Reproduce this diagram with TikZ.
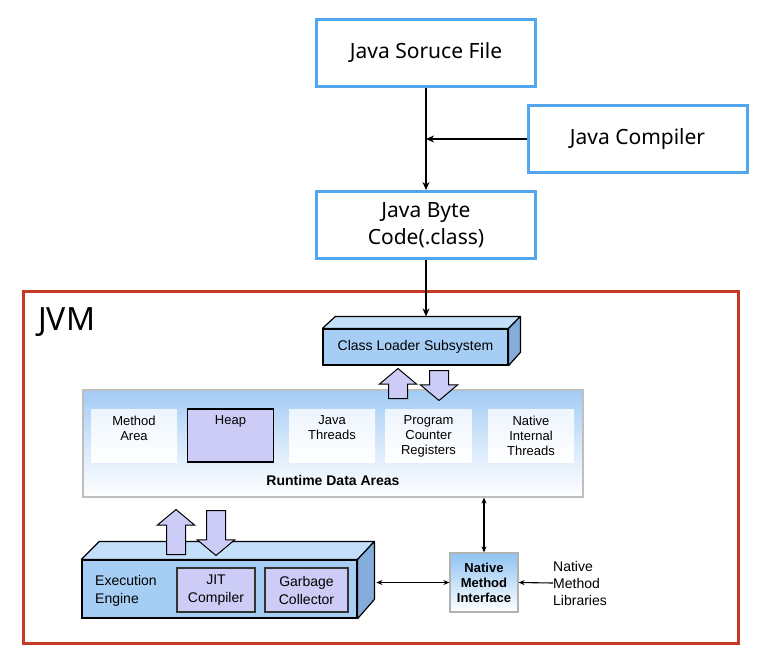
\documentclass[tikz,border=0pt]{standalone}
\usepackage{fontspec}
\setmainfont{Noto Sans}
\newfontfamily\arialfont{Liberation Sans}
\usepackage{tikz}
\usetikzlibrary{arrows.meta, positioning, shapes.arrows}
\definecolor{cblue}{HTML}{52A6EE}
\definecolor{cred}{HTML}{C43A25}
\definecolor{cfront}{HTML}{A6CEF4}
\definecolor{ctop}{HTML}{C3DFF9}
\definecolor{cside}{HTML}{84ADDC}
\definecolor{clav}{HTML}{CCCCF7}
\definecolor{crda}{HTML}{A2CBF4}
\definecolor{cnmi}{HTML}{8FC3F2}

\begin{document}
\begin{tikzpicture}[x=1pt, y=-1pt,
  srcbox/.style={draw=cblue, line width=3pt, minimum width=219pt, minimum height=67pt,
    align=center, font=\fontsize{21}{27}\selectfont},
  conn/.style={line width=1.4pt, -{Stealth[length=8pt, width=7pt]}},
  sconn/.style={line width=1.1pt, -{Stealth[length=6pt, width=5pt]}},
  dconn/.style={line width=1.1pt, {Stealth[length=6pt, width=5pt]}-{Stealth[length=6pt, width=5pt]}},
  front/.style={draw=black, line width=1.2pt, fill=cfront, inner sep=0pt},
  topface/.style={draw=black, line width=1.2pt, fill=ctop, line join=round},
  sideface/.style={draw=black, line width=1.2pt, fill=cside, line join=round},
  fatarrow/.style={single arrow, draw=black, line width=1pt, fill=clav, inner sep=9pt,
    single arrow head extend=9pt, single arrow tip angle=100, anchor=tail},
  cell/.style={minimum width=86pt, minimum height=53pt, inner sep=0pt,
    top color=white!80!crda, bottom color=white},
  heapcell/.style={cell, draw=black, line width=1.3pt, fill=clav, top color=clav, bottom color=clav},
  celltext/.style={font=\arialfont\fontsize{13}{15}\selectfont, align=center, inner sep=0pt},
  partbox/.style={draw=black!80, line width=1.2pt, fill=clav, minimum height=44pt, inner sep=0pt,
    font=\arialfont\fontsize{14}{18}\selectfont, align=center}
]
\useasboundingbox (0,0) rectangle (778,664);

% compile path
\node[srcbox] (src) at (426,53) {Java Soruce File};
\node[srcbox] (comp) at (637.5,139) {Java Compiler};
\node[srcbox] (byte) at (426,225) {Java Byte\\Code(.class)};
\draw[conn] (src) -- (byte);
\draw[conn] (comp.west) -- (comp.west -| src.south);

% JVM frame
\node[draw=cred, line width=3pt, minimum width=715pt, minimum height=352pt] (jvm) at (381,467.5) {};
\node[font=\fontsize{32}{36}\selectfont, anchor=base west, inner sep=0pt] (jvmlbl) at (38,330) {JVM};

% runtime data areas
\node[draw=black!25, line width=1.2pt, minimum width=500pt, minimum height=107pt,
  top color=crda, bottom color=white, middle color=white!55!crda] (rda) at (333,443.5) {};
\foreach \i/\cx/\txt in {1/134/{Method\\Area}, 2/230.5/Heap, 3/332/{Java\\Threads},
    4/428.5/{Program\\Counter\\Registers}, 5/531/{Native\\Internal\\Threads}}{
  \ifnum\i=2
    \node[heapcell] (c\i) at (\cx,435.5) {};
  \else
    \node[cell] (c\i) at (\cx,435.5) {};
  \fi
  \node[celltext, below=7pt of c\i.north] (t\i) {\txt};
}
\node[font=\arialfont\bfseries\fontsize{14}{16}\selectfont, inner sep=0pt, above=12pt of rda.south] (rdalbl) {Runtime Data Areas};

% class loader
\node[front, minimum width=185pt, minimum height=36pt, font=\arialfont\fontsize{14}{16}\selectfont] (loader) at (415.5,347) {Class Loader Subsystem};
\filldraw[topface] (loader.north west) -- ++(13,-12) coordinate (ldnw) -- ++(185,0) coordinate (ldne)
  -- (loader.north east) -- cycle;
\filldraw[sideface] (loader.north east) -- (ldne) -- ++(0,36) -- (loader.south east) -- cycle;
\draw[conn] (byte) -- (byte.south |- ldnw);
\node[fatarrow, minimum height=30pt, shape border rotate=90] (ldup) at (398,399) {};
\node[fatarrow, minimum height=30pt, shape border rotate=270] (lddown) at (439,370) {};

% execution engine
\node[front, minimum width=275pt, minimum height=58pt] (engine) at (219.5,589) {};
\filldraw[topface] (engine.north west) -- ++(18,-18) coordinate (eenw) -- ++(275,0) coordinate (eene)
  -- (engine.north east) -- cycle;
\filldraw[sideface] (engine.north east) -- (eene) -- ++(0,58) coordinate (eese) -- (engine.south east) -- cycle;
\node[celltext, font=\arialfont\fontsize{14}{18}\selectfont, align=left, anchor=west] (eelbl) at (95,591) {Execution\\Engine};
\node[partbox, minimum width=78pt] (jit) at (216,590) {JIT\\Compiler};
\node[partbox, minimum width=83pt] (gc) at (306.5,590) {Garbage\\Collector};
\node[fatarrow, minimum height=45pt, shape border rotate=90] (eeup) at (176,555) {};
\node[fatarrow, minimum height=45pt, shape border rotate=270] (eedown) at (216,510) {};

% native interface
\node[draw=black!30, line width=1.2pt, minimum width=68pt, minimum height=59pt, inner sep=0pt,
  top color=cnmi, bottom color=white, align=center,
  font=\arialfont\bfseries\fontsize{13}{15}\selectfont] (nmi) at (484,582.5) {Native\\Method\\Interface};
\node[celltext, font=\arialfont\fontsize{14}{17}\selectfont, align=left, anchor=west] (lib) at (553,583) {Native\\Method\\Libraries};
\draw[dconn] (rda.south -| nmi.north) -- (nmi.north);
\draw[dconn] ([xshift=2pt]nmi.west -| eene) -- (nmi.west);
\draw[sconn] (lib.west) -- (nmi.east);
\end{tikzpicture}
\end{document}
